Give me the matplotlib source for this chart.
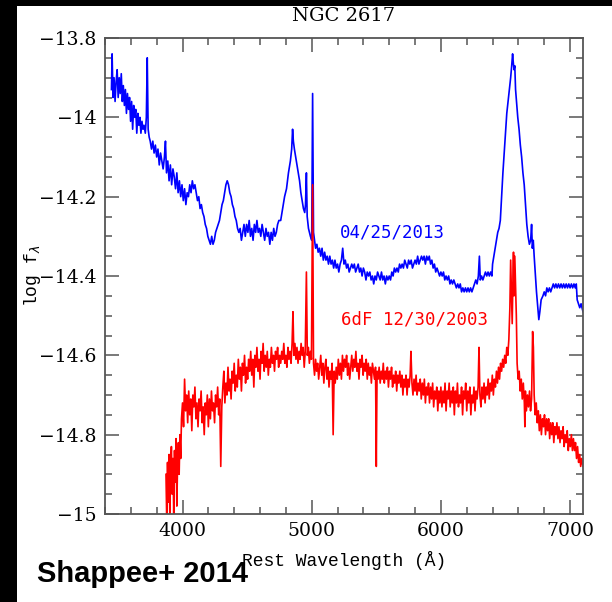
"""
NGC 2617 optical spectra: 2013 outburst vs. the 6dF archival spectrum.
"""

import matplotlib
matplotlib.use("Agg")
import matplotlib.pyplot as plt
from matplotlib.patches import Rectangle
from matplotlib.ticker import FuncFormatter, MultipleLocator

# ---------------------------------------------------------------------------
# Data
# ---------------------------------------------------------------------------

# 04/25/2013 spectrum
wave_2013 = [
    3450, 3455, 3462, 3470, 3478, 3486, 3494, 3502, 3510, 3518, 3526, 3534,
    3542, 3550, 3558, 3566, 3574, 3582, 3590, 3598, 3606, 3614, 3622, 3630,
    3638, 3646, 3654, 3662, 3670, 3678, 3686, 3694, 3702, 3712, 3720, 3727,
    3734, 3742, 3750, 3760, 3770, 3780, 3790, 3800, 3810, 3820, 3830, 3840,
    3850, 3860, 3868, 3876, 3886, 3896, 3906, 3916, 3926, 3936, 3946, 3956,
    3966, 3976, 3986, 3996, 4006, 4016, 4026, 4036, 4046, 4056, 4066, 4076,
    4086, 4096, 4106, 4116, 4126, 4136, 4146, 4156, 4166, 4176, 4186, 4196,
    4206, 4216, 4226, 4236, 4246, 4256, 4266, 4276, 4286, 4296, 4306, 4316,
    4326, 4336, 4346, 4356, 4366, 4376, 4386, 4396, 4406, 4416, 4426, 4436,
    4446, 4456, 4466, 4476, 4486, 4496, 4506, 4516, 4526, 4536, 4546, 4556,
    4566, 4576, 4586, 4596, 4606, 4616, 4626, 4636, 4646, 4656, 4666, 4676,
    4686, 4696, 4706, 4716, 4726, 4736, 4746, 4760, 4775, 4790, 4805, 4820,
    4835, 4845, 4852, 4858, 4866, 4876, 4886, 4896, 4906, 4916, 4926, 4936,
    4946, 4952, 4959, 4965, 4975, 4990, 5000, 5007, 5014, 5022, 5030, 5040,
    5050, 5060, 5070, 5080, 5090, 5100, 5110, 5120, 5130, 5140, 5150, 5160,
    5170, 5180, 5190, 5200, 5210, 5220, 5230, 5240, 5250, 5260, 5270, 5280,
    5290, 5300, 5310, 5320, 5330, 5340, 5350, 5360, 5370, 5380, 5390, 5400,
    5410, 5420, 5430, 5440, 5450, 5460, 5470, 5480, 5490, 5500, 5510, 5520,
    5530, 5540, 5550, 5560, 5570, 5580, 5590, 5600, 5610, 5620, 5630, 5640,
    5650, 5660, 5670, 5680, 5690, 5700, 5710, 5720, 5730, 5740, 5750, 5760,
    5770, 5780, 5790, 5800, 5810, 5820, 5830, 5840, 5850, 5860, 5870, 5880,
    5890, 5900, 5910, 5920, 5930, 5940, 5950, 5960, 5970, 5980, 5990, 6000,
    6010, 6020, 6030, 6040, 6050, 6060, 6070, 6080, 6090, 6100, 6110, 6120,
    6130, 6140, 6150, 6160, 6170, 6180, 6190, 6200, 6210, 6220, 6230, 6240,
    6250, 6260, 6270, 6280, 6290, 6298, 6305, 6315, 6325, 6335, 6345, 6355,
    6365, 6375, 6385, 6395, 6400, 6410, 6420, 6430, 6440, 6450, 6460, 6470,
    6480, 6490, 6500, 6510, 6520, 6530, 6540, 6548, 6555, 6560, 6566, 6572,
    6578, 6585, 6595, 6605, 6615, 6625, 6635, 6645, 6655, 6665, 6675, 6685,
    6695, 6702, 6708, 6715, 6722, 6730, 6740, 6750, 6758, 6766, 6776, 6790,
    6800, 6810, 6820, 6830, 6840, 6850, 6860, 6870, 6880, 6890, 6900, 6910,
    6920, 6930, 6940, 6950, 6960, 6970, 6980, 6990, 7000, 7010, 7020, 7030,
    7040, 7048, 7055, 7065, 7075, 7085, 7100,
]
logf_2013 = [
    -13.93, -13.84, -13.95, -13.90, -13.96, -13.91, -13.88, -13.95, -13.90, -13.94, -13.89, -13.96,
    -13.92, -13.97, -13.93, -13.99, -13.94, -13.98, -13.95, -14.01, -13.96, -14.03, -13.97, -14.00,
    -13.98, -14.04, -13.99, -14.02, -14.00, -14.04, -14.01, -14.03, -14.02, -14.04, -14.00, -13.85,
    -14.03, -14.05, -14.06, -14.08, -14.06, -14.09, -14.07, -14.10, -14.08, -14.12, -14.09, -14.11,
    -14.13, -14.10, -14.06, -14.14, -14.11, -14.16, -14.12, -14.17, -14.13, -14.15, -14.18, -14.14,
    -14.19, -14.16, -14.20, -14.17, -14.21, -14.18, -14.22, -14.19, -14.20, -14.17, -14.19, -14.16,
    -14.18, -14.17, -14.19, -14.21, -14.20, -14.23, -14.22, -14.24, -14.25, -14.27, -14.28, -14.30,
    -14.31, -14.32, -14.30, -14.32, -14.31, -14.29, -14.28, -14.27, -14.26, -14.24, -14.22, -14.21,
    -14.19, -14.17, -14.16, -14.17, -14.19, -14.20, -14.22, -14.23, -14.25, -14.26, -14.28, -14.29,
    -14.28, -14.31, -14.29, -14.27, -14.30, -14.27, -14.29, -14.26, -14.30, -14.28, -14.31, -14.27,
    -14.29, -14.26, -14.29, -14.28, -14.30, -14.27, -14.29, -14.31, -14.28, -14.30, -14.29, -14.32,
    -14.29, -14.31, -14.28, -14.30, -14.29, -14.27, -14.26, -14.26, -14.23, -14.20, -14.18, -14.14,
    -14.11, -14.08, -14.03, -14.06, -14.08, -14.10, -14.12, -14.14, -14.16, -14.19, -14.21, -14.23,
    -14.24, -14.22, -14.14, -14.25, -14.28, -14.30, -14.31, -13.94, -14.29, -14.31, -14.33, -14.32,
    -14.34, -14.33, -14.35, -14.33, -14.36, -14.34, -14.36, -14.35, -14.37, -14.35, -14.37, -14.36,
    -14.38, -14.36, -14.38, -14.37, -14.39, -14.37, -14.36, -14.33, -14.37, -14.36, -14.38, -14.37,
    -14.39, -14.38, -14.37, -14.38, -14.37, -14.39, -14.38, -14.37, -14.39, -14.38, -14.40, -14.38,
    -14.39, -14.41, -14.39, -14.40, -14.39, -14.41, -14.40, -14.42, -14.40, -14.41, -14.39, -14.40,
    -14.41, -14.39, -14.41, -14.40, -14.42, -14.40, -14.41, -14.40, -14.41, -14.39, -14.40, -14.38,
    -14.39, -14.38, -14.39, -14.37, -14.38, -14.37, -14.38, -14.36, -14.37, -14.38, -14.36, -14.37,
    -14.36, -14.38, -14.37, -14.36, -14.37, -14.35, -14.37, -14.36, -14.35, -14.36, -14.35, -14.37,
    -14.35, -14.36, -14.35, -14.37, -14.36, -14.38, -14.37, -14.39, -14.38, -14.39, -14.40, -14.39,
    -14.40, -14.39, -14.41, -14.40, -14.41, -14.40, -14.42, -14.41, -14.42, -14.41, -14.42, -14.43,
    -14.42, -14.43, -14.42, -14.44, -14.43, -14.44, -14.43, -14.44, -14.43, -14.44, -14.43, -14.44,
    -14.43, -14.42, -14.41, -14.42, -14.40, -14.35, -14.41, -14.40, -14.41, -14.40, -14.39, -14.40,
    -14.39, -14.40, -14.39, -14.40, -14.37, -14.35, -14.33, -14.31, -14.29, -14.28, -14.26, -14.20,
    -14.14, -14.09, -14.04, -13.99, -13.96, -13.93, -13.90, -13.87, -13.84, -13.86, -13.88, -13.87,
    -13.93, -13.96, -14.00, -14.03, -14.07, -14.10, -14.14, -14.17, -14.22, -14.27, -14.30, -14.32,
    -14.31, -14.27, -14.33, -14.31, -14.35, -14.39, -14.44, -14.48, -14.51, -14.49, -14.46, -14.45,
    -14.44, -14.45, -14.43, -14.44, -14.43, -14.44, -14.43, -14.42, -14.43, -14.42, -14.43, -14.42,
    -14.43, -14.42, -14.43, -14.42, -14.43, -14.42, -14.43, -14.42, -14.43, -14.42, -14.43, -14.42,
    -14.43, -14.42, -14.46, -14.47, -14.48, -14.47, -14.49,
]

# 6dF 12/30/2003 spectrum
wave_6df = [
    3872, 3878, 3884, 3890, 3896, 3902, 3908, 3914, 3920, 3926, 3932, 3938,
    3944, 3950, 3956, 3962, 3968, 3974, 3980, 3986, 3992, 4000, 4008, 4016,
    4024, 4032, 4040, 4048, 4056, 4064, 4072, 4080, 4088, 4096, 4104, 4112,
    4120, 4128, 4136, 4144, 4152, 4160, 4168, 4176, 4184, 4192, 4200, 4208,
    4216, 4224, 4232, 4240, 4248, 4256, 4264, 4272, 4280, 4288, 4296, 4304,
    4312, 4320, 4328, 4336, 4344, 4352, 4360, 4368, 4376, 4384, 4392, 4400,
    4408, 4416, 4424, 4432, 4440, 4448, 4456, 4464, 4472, 4480, 4488, 4496,
    4504, 4512, 4520, 4528, 4536, 4544, 4552, 4560, 4568, 4576, 4584, 4592,
    4600, 4608, 4616, 4624, 4632, 4640, 4648, 4656, 4664, 4672, 4680, 4688,
    4696, 4704, 4712, 4720, 4728, 4736, 4744, 4752, 4760, 4768, 4776, 4784,
    4792, 4800, 4808, 4816, 4824, 4832, 4840, 4848, 4855, 4862, 4870, 4878,
    4886, 4894, 4902, 4910, 4918, 4926, 4934, 4942, 4950, 4959, 4966, 4974,
    4982, 4990, 4998, 5007, 5014, 5022, 5030, 5038, 5046, 5054, 5062, 5070,
    5078, 5086, 5094, 5102, 5110, 5118, 5126, 5134, 5142, 5150, 5158, 5166,
    5174, 5182, 5190, 5198, 5206, 5214, 5222, 5230, 5238, 5246, 5254, 5262,
    5270, 5278, 5286, 5294, 5302, 5310, 5318, 5326, 5334, 5342, 5350, 5358,
    5366, 5374, 5382, 5390, 5398, 5406, 5414, 5422, 5430, 5438, 5446, 5454,
    5462, 5470, 5478, 5486, 5494, 5500, 5506, 5514, 5522, 5530, 5538, 5546,
    5554, 5562, 5570, 5578, 5586, 5594, 5602, 5610, 5618, 5626, 5634, 5642,
    5650, 5658, 5666, 5674, 5682, 5690, 5698, 5706, 5714, 5722, 5730, 5738,
    5746, 5754, 5762, 5768, 5776, 5784, 5792, 5800, 5808, 5816, 5824, 5832,
    5840, 5848, 5856, 5864, 5872, 5880, 5888, 5896, 5904, 5912, 5920, 5928,
    5936, 5944, 5952, 5960, 5968, 5976, 5984, 5992, 6000, 6008, 6016, 6024,
    6032, 6040, 6048, 6056, 6064, 6072, 6080, 6088, 6096, 6104, 6112, 6120,
    6128, 6136, 6144, 6152, 6160, 6168, 6176, 6184, 6192, 6200, 6208, 6216,
    6224, 6232, 6240, 6248, 6256, 6264, 6272, 6280, 6288, 6295, 6302, 6310,
    6318, 6326, 6334, 6342, 6350, 6358, 6366, 6374, 6382, 6390, 6398, 6406,
    6414, 6422, 6430, 6438, 6446, 6454, 6462, 6470, 6478, 6486, 6494, 6502,
    6510, 6518, 6526, 6534, 6540, 6546, 6552, 6558, 6562, 6566, 6572, 6578,
    6584, 6590, 6598, 6606, 6614, 6622, 6630, 6638, 6646, 6650, 6654, 6662,
    6670, 6678, 6686, 6694, 6702, 6710, 6716, 6722, 6730, 6738, 6746, 6754,
    6762, 6770, 6778, 6786, 6794, 6802, 6810, 6818, 6826, 6834, 6842, 6850,
    6858, 6866, 6874, 6882, 6890, 6898, 6906, 6914, 6922, 6930, 6938, 6946,
    6954, 6962, 6970, 6978, 6986, 6994, 7002, 7010, 7018, 7026, 7034, 7042,
    7050, 7058, 7066, 7074, 7082, 7090, 7100,
]
logf_6df = [
    -14.90, -15.02, -14.87, -14.97, -14.85, -15.01, -14.88, -14.83, -14.95, -14.86, -15.00, -14.84,
    -14.92, -14.81, -14.98, -14.87, -14.82, -14.90, -14.80, -14.86, -14.76, -14.72, -14.78, -14.66,
    -14.74, -14.70, -14.77, -14.69, -14.75, -14.71, -14.79, -14.70, -14.73, -14.68, -14.76, -14.72,
    -14.78, -14.71, -14.74, -14.69, -14.77, -14.73, -14.80, -14.72, -14.75, -14.70, -14.78, -14.71,
    -14.76, -14.69, -14.74, -14.72, -14.77, -14.70, -14.73, -14.68, -14.75, -14.71, -14.88, -14.73,
    -14.68, -14.64, -14.72, -14.67, -14.70, -14.63, -14.69, -14.66, -14.71, -14.64, -14.67, -14.62,
    -14.69, -14.65, -14.68, -14.61, -14.66, -14.63, -14.69, -14.62, -14.65, -14.60, -14.67, -14.63,
    -14.66, -14.61, -14.64, -14.59, -14.65, -14.61, -14.68, -14.60, -14.63, -14.58, -14.64, -14.61,
    -14.66, -14.59, -14.62, -14.57, -14.64, -14.60, -14.63, -14.59, -14.65, -14.61, -14.63, -14.58,
    -14.62, -14.60, -14.64, -14.59, -14.61, -14.58, -14.63, -14.60, -14.62, -14.59, -14.61, -14.57,
    -14.62, -14.60, -14.63, -14.58, -14.61, -14.59, -14.62, -14.57, -14.49, -14.60, -14.57, -14.61,
    -14.58, -14.62, -14.59, -14.61, -14.57, -14.60, -14.58, -14.63, -14.59, -14.39, -14.60, -14.58,
    -14.62, -14.59, -14.61, -14.17, -14.62, -14.65, -14.61, -14.64, -14.62, -14.66, -14.63, -14.60,
    -14.65, -14.62, -14.67, -14.63, -14.61, -14.66, -14.63, -14.68, -14.64, -14.66, -14.62, -14.80,
    -14.64, -14.67, -14.63, -14.66, -14.61, -14.65, -14.62, -14.66, -14.60, -14.64, -14.61, -14.63,
    -14.60, -14.65, -14.62, -14.66, -14.63, -14.60, -14.64, -14.61, -14.63, -14.59, -14.64, -14.62,
    -14.66, -14.61, -14.63, -14.60, -14.65, -14.62, -14.64, -14.61, -14.66, -14.62, -14.65, -14.63,
    -14.67, -14.62, -14.64, -14.66, -14.63, -14.88, -14.64, -14.66, -14.63, -14.67, -14.64, -14.66,
    -14.62, -14.67, -14.64, -14.66, -14.63, -14.68, -14.64, -14.66, -14.63, -14.68, -14.65, -14.67,
    -14.64, -14.69, -14.65, -14.67, -14.64, -14.68, -14.65, -14.70, -14.66, -14.68, -14.65, -14.70,
    -14.66, -14.68, -14.65, -14.59, -14.67, -14.70, -14.66, -14.69, -14.65, -14.70, -14.67, -14.69,
    -14.66, -14.71, -14.67, -14.70, -14.66, -14.72, -14.68, -14.70, -14.67, -14.72, -14.68, -14.71,
    -14.67, -14.73, -14.69, -14.71, -14.68, -14.74, -14.69, -14.72, -14.68, -14.73, -14.69, -14.72,
    -14.67, -14.74, -14.69, -14.71, -14.67, -14.73, -14.69, -14.72, -14.68, -14.75, -14.69, -14.72,
    -14.67, -14.73, -14.70, -14.72, -14.68, -14.75, -14.69, -14.71, -14.67, -14.74, -14.69, -14.72,
    -14.68, -14.75, -14.70, -14.72, -14.68, -14.74, -14.69, -14.71, -14.68, -14.58, -14.70, -14.73,
    -14.68, -14.71, -14.67, -14.72, -14.68, -14.70, -14.66, -14.71, -14.67, -14.69, -14.65, -14.70,
    -14.66, -14.68, -14.64, -14.67, -14.63, -14.66, -14.62, -14.64, -14.61, -14.63, -14.60, -14.62,
    -14.58, -14.60, -14.56, -14.48, -14.36, -14.44, -14.52, -14.40, -14.34, -14.45, -14.35, -14.42,
    -14.50, -14.62, -14.66, -14.64, -14.69, -14.66, -14.71, -14.67, -14.72, -14.78, -14.69, -14.74,
    -14.70, -14.73, -14.69, -14.74, -14.71, -14.54, -14.58, -14.70, -14.75, -14.72, -14.77, -14.74,
    -14.79, -14.75, -14.80, -14.76, -14.78, -14.75, -14.80, -14.76, -14.79, -14.76, -14.81, -14.77,
    -14.80, -14.77, -14.82, -14.78, -14.80, -14.77, -14.81, -14.78, -14.82, -14.79, -14.81, -14.78,
    -14.83, -14.80, -14.82, -14.79, -14.84, -14.81, -14.83, -14.80, -14.84, -14.81, -14.84, -14.82,
    -14.86, -14.83, -14.87, -14.85, -14.88, -14.86, -14.88,
]

TITLE = "NGC 2617"
LABEL_2013 = "04/25/2013"
LABEL_6DF = "6dF 12/30/2003"
CREDIT = "Shappee+ 2014"

X_MIN, X_MAX = 3400, 7100
Y_MIN, Y_MAX = -15.0, -13.8

# ---------------------------------------------------------------------------
# Plot
# ---------------------------------------------------------------------------

fig = plt.figure(figsize=(6.12, 6.02), dpi=100)
fig.patch.set_facecolor("white")

# black border strips of the scanned figure
fig.patches.append(Rectangle((0, 0), 17 / 612, 1, transform=fig.transFigure,
                             facecolor="black", edgecolor="none", zorder=0))
fig.patches.append(Rectangle((0, 1 - 6 / 602), 1, 6 / 602, transform=fig.transFigure,
                             facecolor="black", edgecolor="none", zorder=0))

ax = fig.add_axes([105 / 612, 1 - 514 / 602, 478 / 612, 476 / 602])

ax.plot(wave_2013, logf_2013, color="#0000ff", lw=1.2)
ax.plot(wave_6df, logf_6df, color="#ff0000", lw=1.2)

ax.set_xlim(X_MIN, X_MAX)
ax.set_ylim(Y_MIN, Y_MAX)

ax.xaxis.set_major_locator(MultipleLocator(1000))
ax.xaxis.set_minor_locator(MultipleLocator(200))
ax.yaxis.set_major_locator(MultipleLocator(0.2))
ax.yaxis.set_minor_locator(MultipleLocator(0.05))
ax.xaxis.set_major_formatter(FuncFormatter(lambda v, p: f"{v:g}"))
ax.yaxis.set_major_formatter(FuncFormatter(lambda v, p: f"\u2212{abs(v):g}"))

spine_col = "#555555"
for s in ax.spines.values():
    s.set_color(spine_col)
    s.set_linewidth(1.3)
ax.tick_params(which="both", direction="in", top=True, right=True,
               color=spine_col, width=1.1, labelcolor="black")
ax.tick_params(which="major", length=10, labelsize=13.5, pad=6)
ax.tick_params(which="minor", length=5)
for lab in ax.get_xticklabels() + ax.get_yticklabels():
    lab.set_fontfamily("DejaVu Serif")

ax.set_title(TITLE, family="DejaVu Serif", fontsize=14, pad=12)
ax.set_xlabel("Rest Wavelength (\u00c5)", family="Liberation Mono", fontsize=13, labelpad=8)
ax.set_ylabel(r"log f$_\lambda$", family="Liberation Mono", fontsize=13)
ax.yaxis.set_label_coords(-0.13, 0.5)

ax.text(5220, -14.29, LABEL_2013, color="#0000ff", family="DejaVu Sans Mono",
        fontsize=12.5, va="center", ha="left")
ax.text(5230, -14.51, LABEL_6DF, color="#ff0000", family="DejaVu Sans Mono",
        fontsize=12.5, va="center", ha="left")

fig.text(37 / 612, 1 - 582 / 602, CREDIT, family="Liberation Sans", weight="bold",
         fontsize=21, color="black", va="baseline", ha="left")

fig.savefig("out.png", dpi=100)
